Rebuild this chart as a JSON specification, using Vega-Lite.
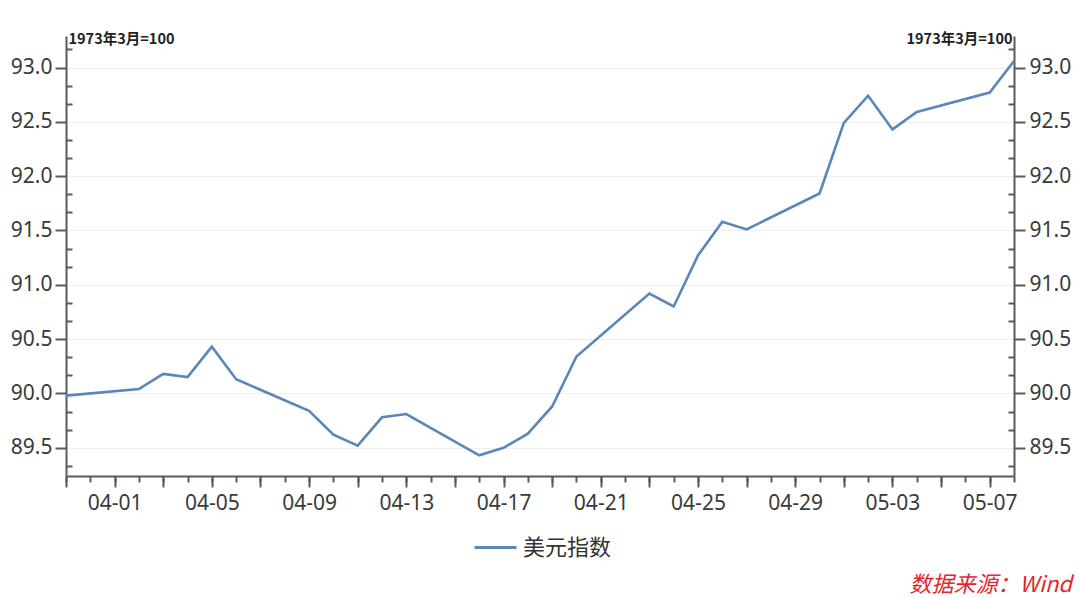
{
  "$schema": "https://vega.github.io/schema/vega-lite/v6.json",
  "width": 948,
  "height": 440,
  "autosize": {"type": "none"},
  "padding": {"left": 66, "top": 36, "right": 66, "bottom": 122},
  "background": "#ffffff",
  "config": {
    "view": {"stroke": null},
    "axis": {"labelFont": "Noto Sans", "labelColor": "#3a3a3a", "domainColor": "#5a5a5a", "tickColor": "#5a5a5a", "domainWidth": 2, "tickWidth": 2}
  },
  "title": {"text": "数据来源：Wind", "orient": "bottom", "anchor": "end", "frame": "group", "fontSize": 22, "fontStyle": "italic", "fontWeight": "normal", "color": "#e0262e", "font": "Noto Sans CJK SC", "offset": 46, "dx": 58, "dy": -30},
  "data": {"values": [
    {"date": "2018-03-30T00:00:00", "value": 89.98, "series": "美元指数"},
    {"date": "2018-04-02T00:00:00", "value": 90.04, "series": "美元指数"},
    {"date": "2018-04-03T00:00:00", "value": 90.18, "series": "美元指数"},
    {"date": "2018-04-04T00:00:00", "value": 90.15, "series": "美元指数"},
    {"date": "2018-04-05T00:00:00", "value": 90.43, "series": "美元指数"},
    {"date": "2018-04-06T00:00:00", "value": 90.13, "series": "美元指数"},
    {"date": "2018-04-09T00:00:00", "value": 89.84, "series": "美元指数"},
    {"date": "2018-04-10T00:00:00", "value": 89.62, "series": "美元指数"},
    {"date": "2018-04-11T00:00:00", "value": 89.52, "series": "美元指数"},
    {"date": "2018-04-12T00:00:00", "value": 89.78, "series": "美元指数"},
    {"date": "2018-04-13T00:00:00", "value": 89.81, "series": "美元指数"},
    {"date": "2018-04-16T00:00:00", "value": 89.43, "series": "美元指数"},
    {"date": "2018-04-17T00:00:00", "value": 89.50, "series": "美元指数"},
    {"date": "2018-04-18T00:00:00", "value": 89.63, "series": "美元指数"},
    {"date": "2018-04-19T00:00:00", "value": 89.88, "series": "美元指数"},
    {"date": "2018-04-20T00:00:00", "value": 90.34, "series": "美元指数"},
    {"date": "2018-04-23T00:00:00", "value": 90.92, "series": "美元指数"},
    {"date": "2018-04-24T00:00:00", "value": 90.80, "series": "美元指数"},
    {"date": "2018-04-25T00:00:00", "value": 91.27, "series": "美元指数"},
    {"date": "2018-04-26T00:00:00", "value": 91.58, "series": "美元指数"},
    {"date": "2018-04-27T00:00:00", "value": 91.51, "series": "美元指数"},
    {"date": "2018-04-30T00:00:00", "value": 91.84, "series": "美元指数"},
    {"date": "2018-05-01T00:00:00", "value": 92.49, "series": "美元指数"},
    {"date": "2018-05-02T00:00:00", "value": 92.74, "series": "美元指数"},
    {"date": "2018-05-03T00:00:00", "value": 92.43, "series": "美元指数"},
    {"date": "2018-05-04T00:00:00", "value": 92.59, "series": "美元指数"},
    {"date": "2018-05-07T00:00:00", "value": 92.77, "series": "美元指数"},
    {"date": "2018-05-08T00:00:00", "value": 93.06, "series": "美元指数"}
  ]},
  "layer": [
    {
      "mark": {"type": "line", "strokeWidth": 2.6, "interpolate": "linear"},
      "encoding": {
        "x": {"field": "date", "type": "temporal",
          "scale": {"domain": [{"year": 2018, "month": 3, "date": 30}, {"year": 2018, "month": 5, "date": 8}], "nice": false},
          "axis": {"orient": "bottom", "title": null, "grid": false, "tickSize": 11, "labelPadding": 5, "labelFontSize": 21,
            "values": [{"year": 2018, "month": 3, "date": 30}, {"year": 2018, "month": 4, "date": 1}, {"year": 2018, "month": 4, "date": 3}, {"year": 2018, "month": 4, "date": 5}, {"year": 2018, "month": 4, "date": 7}, {"year": 2018, "month": 4, "date": 9}, {"year": 2018, "month": 4, "date": 11}, {"year": 2018, "month": 4, "date": 13}, {"year": 2018, "month": 4, "date": 15}, {"year": 2018, "month": 4, "date": 17}, {"year": 2018, "month": 4, "date": 19}, {"year": 2018, "month": 4, "date": 21}, {"year": 2018, "month": 4, "date": 23}, {"year": 2018, "month": 4, "date": 25}, {"year": 2018, "month": 4, "date": 27}, {"year": 2018, "month": 4, "date": 29}, {"year": 2018, "month": 5, "date": 1}, {"year": 2018, "month": 5, "date": 3}, {"year": 2018, "month": 5, "date": 5}, {"year": 2018, "month": 5, "date": 7}],
            "labelExpr": "(round((datum.value - datetime(2018, 3, 1)) / 86400000) % 4 == 0) ? timeFormat(datum.value, '%m-%d') : ''",
            "labelOverlap": false, "labelFlush": false}},
        "y": {"field": "value", "type": "quantitative",
          "scale": {"domain": [89.24, 93.29], "nice": false, "zero": false},
          "axis": {"orient": "left", "values": [89.5, 90, 90.5, 91, 91.5, 92, 92.5, 93], "format": ".1f", "tickSize": 11, "labelPadding": 3, "labelFontSize": 21,
            "grid": true, "gridColor": "#eeeeee", "gridWidth": 1,
            "title": "1973年3月=100", "titleAngle": 0, "titleAlign": "left", "titleBaseline": "middle", "titleX": 2, "titleY": 3, "titleFont": "Noto Sans CJK SC", "titleFontSize": 14.5, "titleFontWeight": "bold", "titleColor": "#222222"}},
        "color": {"field": "series", "type": "nominal", "scale": {"range": ["#5b86b9"]},
          "legend": {"orient": "none", "legendX": 407, "legendY": 489, "direction": "horizontal", "title": null, "symbolType": "stroke", "symbolSize": 1764, "symbolStrokeWidth": 3, "labelFontSize": 22, "labelFont": "Noto Sans CJK SC", "labelColor": "#333333", "labelOffset": 5, "padding": 0}}
      }
    },
    {
      "mark": {"type": "line", "strokeOpacity": 0},
      "encoding": {
        "x": {"field": "date", "type": "temporal",
          "axis": {"orient": "bottom", "title": null, "grid": false, "labels": false, "domain": false, "tickSize": 6, "tickCount": {"interval": "day", "step": 1}}},
        "y": {"field": "value", "type": "quantitative",
          "axis": {"orient": "left", "title": null, "grid": false, "labels": false, "domain": false, "tickSize": -6,
            "values": [89.3333, 89.6667, 89.8333, 90.1667, 90.3333, 90.6667, 90.8333, 91.1667, 91.3333, 91.6667, 91.8333, 92.1667, 92.3333, 92.6667, 92.8333, 93.1667]}}
      }
    },
    {
      "mark": {"type": "line", "strokeOpacity": 0},
      "encoding": {
        "x": {"field": "date", "type": "temporal", "axis": null},
        "y": {"field": "value", "type": "quantitative",
          "axis": {"orient": "right", "values": [89.5, 90, 90.5, 91, 91.5, 92, 92.5, 93], "format": ".1f", "tickSize": 11, "labelPadding": 4, "labelFontSize": 21, "grid": false,
            "title": "1973年3月=100", "titleAngle": 0, "titleAlign": "right", "titleBaseline": "middle", "titleX": -2, "titleY": 3, "titleFont": "Noto Sans CJK SC", "titleFontSize": 14.5, "titleFontWeight": "bold", "titleColor": "#222222"}}
      }
    },
    {
      "mark": {"type": "line", "strokeOpacity": 0},
      "encoding": {
        "x": {"field": "date", "type": "temporal", "axis": null},
        "y": {"field": "value", "type": "quantitative",
          "axis": {"orient": "right", "title": null, "grid": false, "labels": false, "domain": false, "tickSize": -6,
            "values": [89.3333, 89.6667, 89.8333, 90.1667, 90.3333, 90.6667, 90.8333, 91.1667, 91.3333, 91.6667, 91.8333, 92.1667, 92.3333, 92.6667, 92.8333, 93.1667]}}
      }
    }
  ],
  "resolve": {"axis": {"x": "independent", "y": "independent"}}
}
